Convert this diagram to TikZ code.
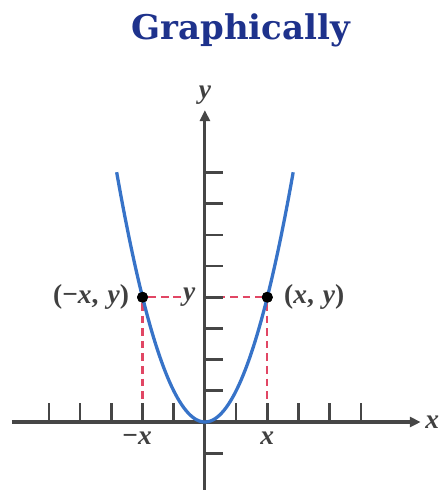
\documentclass[tikz,border=0pt]{standalone}
\usepackage{fontspec}
\setmainfont{Liberation Serif}
\newfontfamily\titlefont{DejaVu Serif}
\usetikzlibrary{positioning,arrows.meta}
\definecolor{ttlblue}{RGB}{30,50,140}
\definecolor{crvblue}{RGB}{55,115,200}
\definecolor{dshred}{RGB}{225,70,100}
\definecolor{axgray}{RGB}{70,70,70}

\begin{document}
\begin{tikzpicture}[>={Triangle[length=10pt,width=9pt]},
  ax/.style={line width=2.8pt,axgray},
  tk/.style={line width=2.4pt,axgray},
  crv/.style={line width=3pt,crvblue},
  dsh/.style={line width=2pt,dshred,dash pattern=on 7pt off 4.5pt},
  dot/.style={circle,fill=black,inner sep=0pt,minimum size=10pt},
  lbl/.style={font=\bfseries\fontsize{25}{27}\selectfont,text=black!75,inner sep=2pt}]
\useasboundingbox (-6.57,-2.18) rectangle (7.72,13.53);
\node[anchor=base,font=\titlefont\bfseries\fontsize{31}{34}\selectfont,text=ttlblue] (ttl) at (1.15,12.25) {Graphically};
% axes
\coordinate (xl) at (-6.19,0);
\coordinate (xr) at (6.92,0);
\coordinate (yb) at (0,-2.18);
\coordinate (yt) at (0,10);
\coordinate (yf) at (0,4);
\coordinate (xm) at (-2,0);
\coordinate (xp) at (2,0);
% parabola and dashed guides
\node[dot] (pl) at (-2,4) {};
\node[dot] (pr) at (2,4) {};
\node[lbl,anchor=center] (ylab) at (-0.5,4) {\textit{y}};
\draw[dsh] (pl) -- (ylab.west);
\draw[dsh] (yf) -- (pr);
\draw[dsh] (pl) -- (xm);
\draw[dsh] (pr) -- (xp);
\foreach \i in {-5,...,-1,1,2,...,5} \draw[tk] (\i,0) -- (\i,0.6);
\foreach \j in {-1,1,2,...,8} \draw[tk] (0,\j) -- (0.58,\j);
\draw[ax,->] (xl) -- (xr);
\draw[ax,->] (yb) -- (yt);
\draw[crv] plot[domain=-2.83:2.83,samples=80,smooth] (\x,{\x*\x});
\node[dot] at (pl) {};
\node[dot] at (pr) {};
% labels
\node[lbl,above=3pt of yt] (ynm) {\textit{y}};
\node[lbl,right=2pt of xr] (xnm) {\textit{x}};
\node[lbl,left=5pt of pl] (plab) {(−\textit{x}, \hspace{2pt}\textit{y})};
\node[lbl,right=8pt of pr] (prlab) {(\textit{x}, \hspace{2pt}\textit{y})};
\node[lbl,below=7pt of xm,xshift=-5pt] (mxlab) {−\textit{x}};
\node[lbl,below=7pt of xp] (pxlab) {\textit{x}};
\end{tikzpicture}
\end{document}
